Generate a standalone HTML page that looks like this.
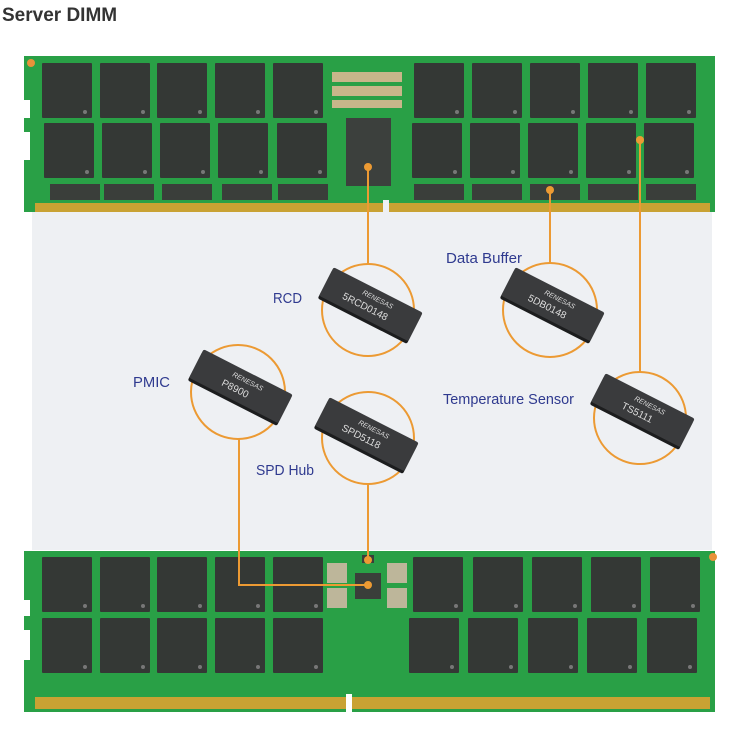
<!DOCTYPE html>
<html><head><meta charset="utf-8"><style>
html,body{margin:0;padding:0;background:#fff;width:741px;height:729px;overflow:hidden}
svg{display:block}
</style></head><body>
<svg width="741" height="729" viewBox="0 0 741 729" xmlns="http://www.w3.org/2000/svg">
<defs>
<g id="mem"><rect width="50" height="55" fill="#343835" rx="1"/><circle cx="43" cy="49" r="2" fill="#777"/></g>
<g id="sm"><rect width="50" height="16" fill="#3a3e3a"/></g>
<g id="ic">
<rect x="-50" y="-15" width="100" height="32" rx="2" fill="#1c1d1e"/>
<rect x="-50" y="-18" width="100" height="32" rx="2" fill="#3a3b3d"/>
</g>
</defs>
<text x="2" y="21" font-family="Liberation Sans, sans-serif" font-weight="bold" font-size="19" fill="#333">Server DIMM</text>
<rect x="32" y="212" width="680" height="338" fill="#eef0f3"/>

<!-- TOP DIMM -->
<path d="M24 56 H715 V212 H24 V160 H30 V132 H24 V118 H30 V100 H24 Z" fill="#29a046"/>
<rect x="35" y="203" width="675" height="9" fill="#c9a233"/>
<rect x="383" y="200" width="6" height="14" fill="#eef0f3"/>
<circle cx="31" cy="63" r="4" fill="#e8923a"/>
<use href="#mem" x="42" y="63"/><use href="#mem" x="100" y="63"/><use href="#mem" x="157" y="63"/><use href="#mem" x="215" y="63"/><use href="#mem" x="273" y="63"/>
<use href="#mem" x="44" y="123"/><use href="#mem" x="102" y="123"/><use href="#mem" x="160" y="123"/><use href="#mem" x="218" y="123"/><use href="#mem" x="277" y="123"/>
<use href="#sm" x="50" y="184"/><use href="#sm" x="104" y="184"/><use href="#sm" x="162" y="184"/><use href="#sm" x="222" y="184"/><use href="#sm" x="278" y="184"/>
<use href="#mem" x="414" y="63"/><use href="#mem" x="472" y="63"/><use href="#mem" x="530" y="63"/><use href="#mem" x="588" y="63"/><use href="#mem" x="646" y="63"/>
<use href="#mem" x="412" y="123"/><use href="#mem" x="470" y="123"/><use href="#mem" x="528" y="123"/><use href="#mem" x="586" y="123"/><use href="#mem" x="644" y="123"/>
<use href="#sm" x="414" y="184"/><use href="#sm" x="472" y="184"/><use href="#sm" x="530" y="184"/><use href="#sm" x="588" y="184"/><use href="#sm" x="646" y="184"/>
<g fill="#c8b68a"><rect x="332" y="72" width="70" height="10"/><rect x="332" y="86" width="70" height="10"/><rect x="332" y="100" width="70" height="8"/></g>
<rect x="346" y="118" width="45" height="68" fill="#3c403d"/>

<!-- BOTTOM DIMM -->
<path d="M24 551 H715 V712 H24 V660 H30 V630 H24 V616 H30 V600 H24 Z" fill="#29a046"/>
<rect x="35" y="697" width="675" height="12" fill="#c9a233"/>
<rect x="346" y="694" width="6" height="18" fill="#fff"/>
<circle cx="713" cy="557" r="4" fill="#e8923a"/>
<use href="#mem" x="42" y="557"/><use href="#mem" x="100" y="557"/><use href="#mem" x="157" y="557"/><use href="#mem" x="215" y="557"/><use href="#mem" x="273" y="557"/>
<use href="#mem" x="42" y="618"/><use href="#mem" x="100" y="618"/><use href="#mem" x="157" y="618"/><use href="#mem" x="215" y="618"/><use href="#mem" x="273" y="618"/>
<use href="#mem" x="413" y="557"/><use href="#mem" x="473" y="557"/><use href="#mem" x="532" y="557"/><use href="#mem" x="591" y="557"/><use href="#mem" x="650" y="557"/>
<use href="#mem" x="409" y="618"/><use href="#mem" x="468" y="618"/><use href="#mem" x="528" y="618"/><use href="#mem" x="587" y="618"/><use href="#mem" x="647" y="618"/>
<g fill="#bdb69a"><rect x="327" y="563" width="20" height="20"/><rect x="327" y="588" width="20" height="20"/><rect x="387" y="563" width="20" height="20"/><rect x="387" y="588" width="20" height="20"/></g>
<rect x="355" y="573" width="26" height="26" fill="#3a3e3a"/>
<rect x="362" y="555" width="12" height="8" fill="#3a3e3a"/>

<!-- connectors -->
<g stroke="#ec9a33" stroke-width="2" fill="none">
<line x1="368" y1="167" x2="368" y2="266"/>
<line x1="550" y1="190" x2="550" y2="263"/>
<line x1="640" y1="140" x2="640" y2="372"/>
<polyline points="239,439 239,585 368,585"/>
<line x1="368" y1="484" x2="368" y2="560"/>
<circle cx="368" cy="310" r="46" fill="#eef0f3"/>
<circle cx="550" cy="310" r="47" fill="#eef0f3"/>
<circle cx="640" cy="418" r="46" fill="#eef0f3"/>
<circle cx="238" cy="392" r="47" fill="#eef0f3"/>
<circle cx="368" cy="438" r="46" fill="#eef0f3"/>
</g>
<g fill="#ec9a33"><circle cx="368" cy="167" r="4"/><circle cx="550" cy="190" r="4"/><circle cx="640" cy="140" r="4"/><circle cx="368" cy="585" r="4"/><circle cx="368" cy="560" r="4"/></g>

<!-- IC chips -->
<g font-family="Liberation Sans, sans-serif" fill="#ddd">
<g transform="translate(370,306) rotate(27)"><use href="#ic"/><text x="4" y="-7" font-size="7" text-anchor="middle" font-style="italic">RENESAS</text><text x="-4" y="6" font-size="10" text-anchor="middle">5RCD0148</text></g>
<g transform="translate(552,306) rotate(27)"><use href="#ic"/><text x="4" y="-7" font-size="7" text-anchor="middle" font-style="italic">RENESAS</text><text x="-4" y="6" font-size="10" text-anchor="middle">5DB0148</text></g>
<g transform="translate(642,412) rotate(27)"><use href="#ic"/><text x="4" y="-7" font-size="7" text-anchor="middle" font-style="italic">RENESAS</text><text x="-4" y="6" font-size="10" text-anchor="middle">TS5111</text></g>
<g transform="translate(240,388) rotate(27)"><use href="#ic"/><text x="4" y="-7" font-size="7" text-anchor="middle" font-style="italic">RENESAS</text><text x="-4" y="6" font-size="10" text-anchor="middle">P8900</text></g>
<g transform="translate(366,436) rotate(27)"><use href="#ic"/><text x="4" y="-7" font-size="7" text-anchor="middle" font-style="italic">RENESAS</text><text x="-4" y="6" font-size="10" text-anchor="middle">SPD5118</text></g>
</g>

<!-- labels -->
<g font-family="Liberation Sans, sans-serif" font-size="15" fill="#2f3a8f">
<text x="273" y="303" textLength="29" lengthAdjust="spacingAndGlyphs">RCD</text>
<text x="446" y="263" textLength="76" lengthAdjust="spacingAndGlyphs">Data Buffer</text>
<text x="133" y="387" textLength="37" lengthAdjust="spacingAndGlyphs">PMIC</text>
<text x="443" y="404" textLength="131" lengthAdjust="spacingAndGlyphs">Temperature Sensor</text>
<text x="256" y="475" textLength="58" lengthAdjust="spacingAndGlyphs">SPD Hub</text>
</g>
</svg>
</body></html>
